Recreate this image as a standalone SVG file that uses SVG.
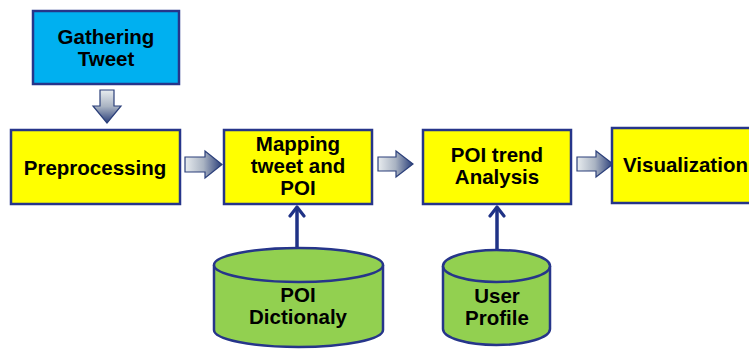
<svg xmlns="http://www.w3.org/2000/svg" width="749" height="349" viewBox="0 0 749 349">
<defs>
<linearGradient id="gd" x1="0" y1="0" x2="0" y2="1">
<stop offset="0" stop-color="#e8ecef"/><stop offset="0.5" stop-color="#a9b3c2"/><stop offset="1" stop-color="#2b3f7a"/>
</linearGradient>
<linearGradient id="gr" x1="0" y1="0" x2="1" y2="0">
<stop offset="0" stop-color="#e8ecef"/><stop offset="0.5" stop-color="#a9b3c2"/><stop offset="1" stop-color="#2b3f7a"/>
</linearGradient>
<marker id="ah" viewBox="0 0 14 18" refX="11" refY="9" markerWidth="14" markerHeight="18" markerUnits="userSpaceOnUse" orient="auto">
<path d="M2,2 L11,9 L2,16" fill="none" stroke="#1f3286" stroke-width="3.2" stroke-linecap="round" stroke-linejoin="round"/>
</marker>
<style>
.box{stroke:#26358a;stroke-width:2.5}
.y{fill:#ffff00}
.b{fill:#00b0f0}
.g{fill:#92d050}
.t{font-family:"Liberation Sans",Arial,sans-serif;font-weight:bold;font-size:20.5px;fill:#000;text-anchor:middle}
.blk{stroke:#2b3f7a;stroke-width:1.2}
.ln{stroke:#1f3286;stroke-width:3.5;fill:none}
</style>
</defs>
<g id="connectors">
<path class="blk" fill="url(#gd)" d="M100,90 L114,90 L114,106 L121,106 L107,123 L93,106 L100,106 Z"/>
<path class="blk" fill="url(#gr)" d="M185,157 L205,157 L205,151 L222,164.5 L205,178 L205,172 L185,172 Z"/>
<path class="blk" fill="url(#gr)" d="M378,157 L396,157 L396,151 L413,164 L396,177 L396,171 L378,171 Z"/>
<path class="blk" fill="url(#gr)" d="M577,157 L596,157 L596,151 L613,164 L596,177 L596,171 L577,171 Z"/>
<line class="ln" x1="297" y1="248" x2="297" y2="207" marker-end="url(#ah)"/>
<line class="ln" x1="497" y1="250" x2="497" y2="207" marker-end="url(#ah)"/>
</g>
<g id="gathering">
<rect class="box b" x="33" y="11" width="146" height="73"/>
<text class="t" x="106" y="44">Gathering</text>
<text class="t" x="106" y="66">Tweet</text>
</g>
<g id="preprocessing">
<rect class="box y" x="11" y="130" width="169" height="74"/>
<text class="t" x="95" y="175">Preprocessing</text>
</g>
<g id="mapping">
<rect class="box y" x="224" y="130" width="148" height="74"/>
<text class="t" x="298" y="151">Mapping</text>
<text class="t" x="298" y="173">tweet and</text>
<text class="t" x="298" y="195">POI</text>
</g>
<g id="trend">
<rect class="box y" x="423" y="130" width="148" height="74"/>
<text class="t" x="497" y="162">POI trend</text>
<text class="t" x="497" y="184">Analysis</text>
</g>
<g id="visualization">
<rect class="box y" x="612" y="128" width="150" height="75"/>
<text class="t" x="623" y="172" style="text-anchor:start">Visualization</text>
</g>
<g id="dictionary">
<path class="box g" d="M214,265 L214,330 A84.5,17 0 0 0 383,330 L383,265"/>
<ellipse class="box g" cx="298.5" cy="265" rx="84.5" ry="17"/>
<text class="t" x="298" y="302">POI</text>
<text class="t" x="298" y="324">Dictionaly</text>
</g>
<g id="profile">
<path class="box g" d="M443,266 L443,329 A53.5,16 0 0 0 550,329 L550,266"/>
<ellipse class="box g" cx="496.5" cy="266" rx="53.5" ry="16"/>
<text class="t" x="497" y="303">User</text>
<text class="t" x="497" y="325">Profile</text>
</g>
</svg>
